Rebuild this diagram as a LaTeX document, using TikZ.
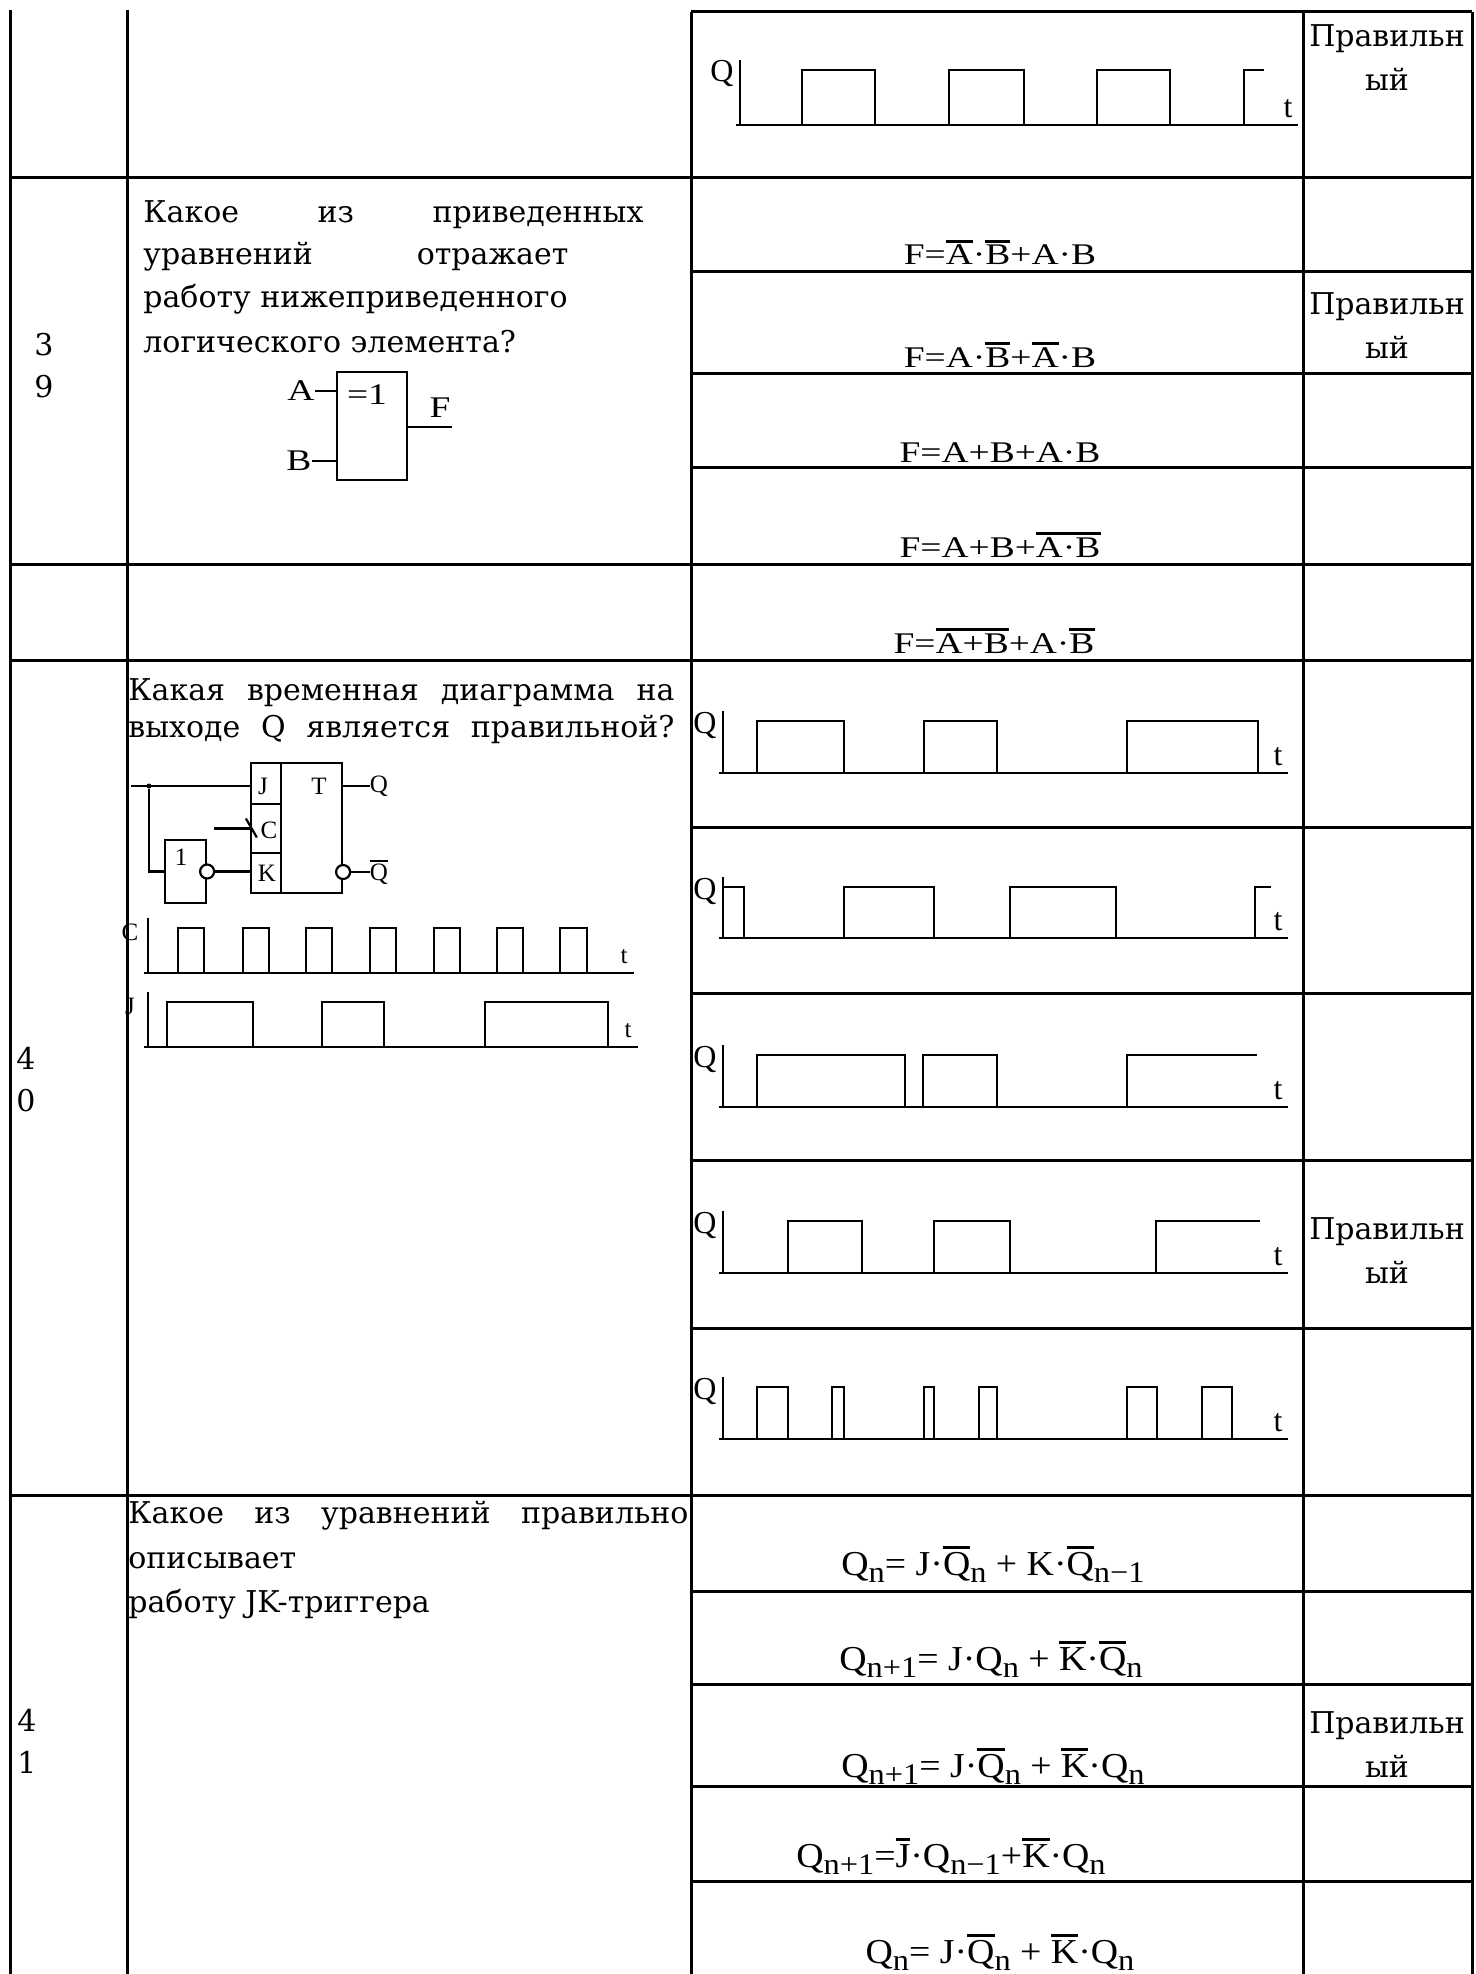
\documentclass[tikz,border=0pt]{standalone}
\usepackage{fontspec}
\setmainfont{DejaVu Serif}
\newfontfamily\frm{Liberation Serif}[FakeStretch=1.25]
\newfontfamily\frmb{Liberation Serif}[FakeStretch=1.08]
\newfontfamily\sch{Liberation Serif}
\usetikzlibrary{shapes}
\def\ov#1{\vbox{\hrule height .09em\kern .08em\hbox{#1}}}
\def\sbs#1{\raisebox{-3.5pt}{\fontsize{15}{15}\selectfont #1}}
\def\pulses#1#2#3{\foreach \a/\b in {#3} \draw[wpulse] (\a,#1) |- (\b,#2) -- (\b,#1);}
\def\sigaxes#1#2#3#4#5#6#7{%
  \draw[waxis] (#3,#5-10) -- (#3,#4);
  \draw[wbase] (#3-4,#4) -- (#6,#4);
  \node[#7] (#1) at (#3-18,#5+4) {#2};
  \node[#7] (#1t) at (#6-10,#4-16) {t};}
\tikzstyle{tline}=[line width=1.5pt]
\tikzstyle{wpulse}=[line width=1.4pt]
\tikzstyle{waxis}=[line width=0.6pt]
\tikzstyle{wbase}=[line width=0.9pt]
\tikzstyle{wire}=[line width=1.1pt]
\tikzstyle{txt}=[inner sep=0pt,anchor=base west,font=\fontsize{15}{21}\selectfont]
\tikzstyle{num}=[inner sep=0pt,align=left,font=\fontsize{15}{21}\selectfont]
\tikzstyle{okbox}=[inner sep=0pt,align=center,font=\fontsize{15}{22}\selectfont]
\tikzstyle{eqa}=[inner sep=0pt,anchor=base,font=\frm\fontsize{15}{15}\selectfont]
\tikzstyle{eqb}=[inner sep=0pt,anchor=base,font=\frmb\fontsize{17.5}{17.5}\selectfont]
\tikzstyle{lbl}=[inner sep=0pt,font=\sch\fontsize{12.5}{12.5}\selectfont]
\tikzstyle{wlbl}=[inner sep=0pt,font=\sch\fontsize{16}{16}\selectfont]
\tikzstyle{glbl}=[inner sep=0pt,font=\frm\fontsize{15}{15}\selectfont]
\tikzstyle{gatebox}=[draw,line width=1.1pt,inner sep=0pt]
\tikzstyle{bubble}=[draw,circle,line width=1.1pt,inner sep=0pt,minimum size=7pt,fill=white]

\begin{document}
\begin{tikzpicture}[x=0.5pt,y=-0.5pt]
  \useasboundingbox[fill=white] (0,0) rectangle (1476,1974);
  % table rules
  \foreach \x/\y in {10/10,127/10,691/12,1303/12,1472/12} \draw[tline] (\x,\y) -- (\x,1974);
  \draw[tline] (691,12) -- (1472,12);
  \foreach \y in {178,564,660,1495} \draw[tline] (10,\y) -- (1472,\y);
  \foreach \y in {272,374,467,827,993,1160,1328,1591,1684,1786,1881} \draw[tline] (691,\y) -- (1472,\y);

  % row carried over
  \sigaxes{w0}{Q}{740}{125}{70}{1298}{wlbl}
  \pulses{125}{70}{802/875,949/1024,1097/1170}
  \draw[wpulse] (1244,125) |- (1264,70);
  \node[okbox] (ok0) at (1387,58) {Правильн\\ый};

  % question 39
  \node[num] (n39) at (44,366) {3\\9};
  \node[txt] (t39a) at (143,223) {\makebox[250pt][s]{Какое из приведенных}};
  \node[txt] (t39b) at (143,265) {\makebox[212.5pt][s]{уравнений отражает}};
  \node[txt] (t39c) at (143,308) {работу нижеприведенного};
  \node[txt] (t39d) at (143,353) {логического элемента?};
  \node[gatebox,minimum width=35pt,minimum height=54pt] (xor) at (372,426) {};
  \node[glbl] (leq) at (367,395) {=1};
  \node[glbl] (la) at (301,391) {A};
  \node[glbl] (lb) at (299,461) {B};
  \node[glbl] (lf) at (440,408) {F};
  \coordinate (fo) at (452,427);
  \draw[wire] (la.east) -- (la.east -| xor.west);
  \draw[wire] (lb.east) -- (lb.east -| xor.west);
  \draw[wire] (fo -| xor.east) -- (fo);
  \node[eqa] (e39a) at (1000,265) {F=\ov{A}·\ov{B}+A·B};
  \node[eqa] (e39b) at (1000,367) {F=A·\ov{B}+\ov{A}·B};
  \node[eqa] (e39c) at (1000,462) {F=A+B+A·B};
  \node[eqa] (e39d) at (1000,557) {F=A+B+\ov{A·B}};
  \node[eqa] (e39e) at (994,653) {F=\ov{A+B}+A·\ov{B}};
  \node[okbox] (ok39) at (1387,326) {Правильн\\ый};

  % question 40
  \node[num] (n40) at (26,1080) {4\\0};
  \node[txt] (t40a) at (128,700) {\makebox[273pt][s]{Какая временная диаграмма на}};
  \node[txt] (t40b) at (128,737) {\makebox[273pt][s]{выходе Q является правильной?}};
  \node[gatebox,minimum width=15pt,minimum height=20.5pt] (cj) at (266,783.5) {};
  \node[gatebox,minimum width=15pt,minimum height=24.5pt] (cc) at (266,828.5) {};
  \node[gatebox,minimum width=15pt,minimum height=20pt] (ck) at (266,873) {};
  \node[gatebox,minimum width=30.5pt,minimum height=65pt] (ffb) at (311.5,828) {};
  \node[lbl] (lj) at (263,786) {J};
  \node[lbl] (lc) at (269,830) {C};
  \node[lbl] (lk) at (267,873) {K};
  \node[lbl] (lt) at (319,786) {T};
  \node[lbl] (lq) at (379,786) {Q};
  \node[lbl] (lqn) at (379,872) {\ov{Q}};
  \draw[wire] (ffb.east |- lq) -- (lq.west);
  \node[bubble] (bq) at (ffb.east |- lqn) {};
  \draw[wire] (bq.east) -- (lqn.west);
  \node[gatebox,minimum width=20.5pt,minimum height=31.5pt] (inv) at (185.5,871.5) {};
  \node[lbl] (l1) at (181,857) {1};
  \node[bubble] (bi) at (inv.east) {};
  \draw[wire] (bi.east) -- (bi.east -| ck.west);
  \coordinate (jin) at (131,786);
  \node[circle,fill,inner sep=0pt,minimum size=2.5pt] (jd) at (149,786) {};
  \draw[wire] (jin) -- (jin -| cj.west);
  \draw[wire] (jd) |- (inv.west);
  \coordinate (cin) at (214,828.5);
  \draw[wire] (cin) -- (cc.west);
  \draw[wire] ([shift={(-4,-10)}]cc.west) -- ([shift={(7,9)}]cc.west);
  \sigaxes{sc}{C}{148}{973}{928}{634}{lbl}
  \pulses{973}{928}{178/204,243/269,306/332,370/396,434/460,497/523,560/587}
  \sigaxes{sj}{J}{148}{1047}{1002}{638}{lbl}
  \pulses{1047}{1002}{167/253,322/384,485/608}
  % answers 40
  \sigaxes{w1}{Q}{723}{773}{721}{1288}{wlbl}
  \pulses{773}{721}{757/844,924/997,1127/1258}
  \sigaxes{w2}{Q}{723}{938}{887}{1288}{wlbl}
  \draw[wpulse] (723,887) -| (744,938);
  \pulses{938}{887}{844/934,1010/1116}
  \draw[wpulse] (1255,938) |- (1271,887);
  \sigaxes{w3}{Q}{723}{1107}{1055}{1288}{wlbl}
  \pulses{1107}{1055}{757/905,923/997}
  \draw[wpulse] (1127,1107) |- (1257,1055);
  \sigaxes{w4}{Q}{723}{1273}{1221}{1288}{wlbl}
  \pulses{1273}{1221}{788/862,934/1010}
  \draw[wpulse] (1156,1273) |- (1260,1221);
  \node[okbox] (ok40) at (1387,1251) {Правильн\\ый};
  \sigaxes{w5}{Q}{723}{1439}{1387}{1288}{wlbl}
  \pulses{1439}{1387}{757/788,832/844,924/934,979/997,1127/1157,1202/1232}

  % question 41
  \node[num] (n41) at (27,1741) {4\\1};
  \node[txt] (t41a) at (128,1523) {\makebox[280pt][s]{Какое из уравнений правильно}};
  \node[txt] (t41b) at (128,1568) {описывает};
  \node[txt] (t41c) at (128,1612) {работу JK-триггера};
  \node[eqb] (e41a) at (993,1575) {Q\sbs{n}= J·\ov{Q}\sbs{n} + K·\ov{Q}\sbs{n−1}};
  \node[eqb] (e41b) at (991,1670) {Q\sbs{n+1}= J·Q\sbs{n} + \ov{K}·\ov{Q}\sbs{n}};
  \node[eqb] (e41c) at (993,1777) {Q\sbs{n+1}= J·\ov{Q}\sbs{n} + \ov{K}·Q\sbs{n}};
  \node[eqb] (e41d) at (951,1867) {Q\sbs{n+1}=\ov{J}·Q\sbs{n−1}+\ov{K}·Q\sbs{n}};
  \node[eqb] (e41e) at (1000,1963) {Q\sbs{n}= J·\ov{Q}\sbs{n} + \ov{K}·Q\sbs{n}};
  \node[okbox] (ok41) at (1387,1745) {Правильн\\ый};
\end{tikzpicture}
\end{document}
